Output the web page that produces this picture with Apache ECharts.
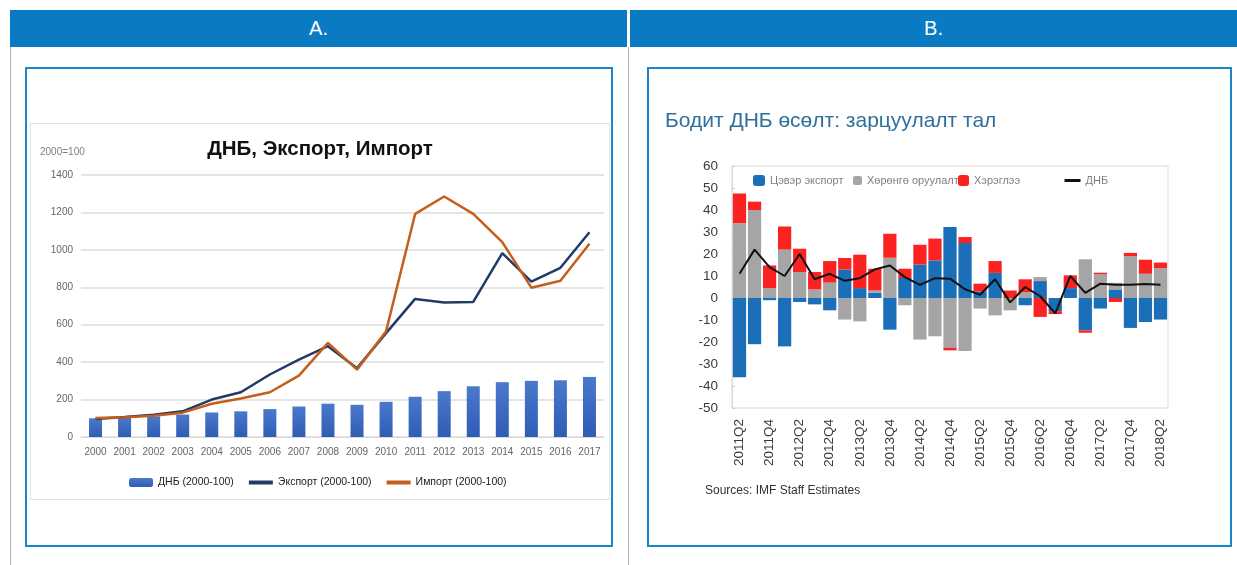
<!DOCTYPE html>
<html>
<head>
<meta charset="utf-8">
<script src="https://cdn.jsdelivr.net/npm/echarts@6/dist/echarts.min.js"></script>
<style>
body{margin:0;background:#fff;width:1237px;height:565px;position:relative;overflow:hidden;font-family:'Liberation Sans',Arial,sans-serif}
.head{position:absolute;top:10px;height:37px;background:#0a7ac2;color:#fff;font-size:20px;line-height:37px;text-align:center}
.vline{position:absolute;top:47px;width:1px;height:518px;background:#b4b4b4}
.frame{position:absolute;top:67px;height:476px;border:2px solid #1a87c9}
#left{position:absolute;left:30px;top:123px;width:578px;height:375px;border:1px solid #e2e2e2}
#right{position:absolute;left:649px;top:69px;width:581px;height:476px}
</style>
</head>
<body>
<div class="head" style="left:10px;width:617px">A.</div>
<div class="head" style="left:630px;width:607px">B.</div>
<div class="vline" style="left:10px"></div>
<div class="vline" style="left:628px"></div>
<div class="frame" style="left:25px;width:584px"></div>
<div class="frame" style="left:647px;width:581px"></div>
<div id="left"></div>
<div id="right"></div>
<script>
// A. ДНБ, Экспорт, Импорт (2000=100)
var years = ['2000','2001','2002','2003','2004','2005','2006','2007','2008','2009','2010','2011','2012','2013','2014','2015','2016','2017'];
var gdpIdx = [100,103,110,120,131,137,149,163,178,172,188,215,245,271,293,300,303,321];
var exportIdx = [96,107,119,137,200,239,334,414,485,368,555,738,719,722,983,830,904,1094];
var importIdx = [101,105,114,130,178,206,239,328,503,360,565,1192,1285,1192,1041,798,835,1033];

// B. Бодит ДНБ өсөлт: зарцуулалт тал
var quarters = ['2011Q2','2011Q3','2011Q4','2012Q1','2012Q2','2012Q3','2012Q4','2013Q1','2013Q2','2013Q3','2013Q4',
  '2014Q1','2014Q2','2014Q3','2014Q4','2015Q1','2015Q2','2015Q3','2015Q4','2016Q1','2016Q2','2016Q3','2016Q4',
  '2017Q1','2017Q2','2017Q3','2017Q4','2018Q1','2018Q2'];
var netExport = [-36,-21,-1,-22,-1.8,-2.9,-5.6,12.9,4.5,2.4,-14.4,9.1,15.2,17.1,32.3,25,3,11.4,0,-3.3,7.7,-6,4.5,-14.7,-4.8,3.9,-13.6,-10.9,-9.8];
var investment = [34,40,4.5,22,11.8,3.9,7,-9.8,-10.6,1,18.3,-3.3,-18.9,-17.4,-22.6,-24.1,-4.8,-7.9,-5.6,2.7,1.8,0,0,17.6,10.9,3,19.1,11,13.6];
var consumption = [13.5,3.8,10.3,10.5,10.6,7.9,9.8,5.3,15.2,9.9,10.9,4.2,9,9.9,-1.2,2.7,3.5,5.4,3.4,5.8,-8.6,-1.3,5.8,-1.1,0.6,-1.8,1.4,6.4,2.5];
var gdpGrowth = [11,22,14,10,20,8.5,11,7.8,9,13,14.8,9.5,6,9,8.8,4,1.5,8.5,-2,5,0.8,-7,10,2.3,6.5,6,6,6.4,6];

var narrow = "'Liberation Sans Narrow','Liberation Sans',Arial,sans-serif";

var chartA = echarts.init(document.getElementById('left'));
chartA.setOption({
  animation: false,
  title: [
    { text: 'ДНБ, Экспорт, Импорт', left: 'center', top: 10,
      textStyle: { fontSize: 20.5, fontWeight: 'bold', color: '#111', fontFamily: 'Liberation Sans, Arial' } },
    { text: '2000=100', left: 4, top: 18, textStyle: { fontSize: 10, fontWeight: 'normal', color: '#808080', fontFamily: narrow } }
  ],
  grid: { left: 50, right: 5, top: 51, bottom: 62 },
  legend: {
    left: 98, top: 353, padding: 0, itemWidth: 24, itemHeight: 9, itemGap: 13,
    textStyle: { fontSize: 10.5, color: '#222' },
    lineStyle: { width: 4 },
    data: [
      'ДНБ (2000-100)',
      { name: 'Экспорт (2000-100)', itemStyle: { opacity: 0 } },
      { name: 'Импорт (2000-100)', itemStyle: { opacity: 0 } }
    ]
  },
  xAxis: {
    type: 'category', data: years,
    axisLine: { lineStyle: { color: '#d9d9d9' } },
    axisTick: { show: false },
    axisLabel: { fontSize: 10, color: '#666', margin: 10, fontFamily: narrow }
  },
  yAxis: {
    type: 'value', min: 0, max: 1400, interval: 200,
    axisLine: { show: false }, axisTick: { show: false },
    axisLabel: { fontSize: 10, color: '#666', margin: 8, fontFamily: narrow, formatter: function (v) { return String(v); } },
    splitLine: { lineStyle: { color: '#dcdcdc', width: 1.5 } }
  },
  series: [
    { name: 'ДНБ (2000-100)', type: 'bar', data: gdpIdx, barWidth: 13,
      itemStyle: { color: new echarts.graphic.LinearGradient(0, 0, 0, 1, [{ offset: 0, color: '#4a78cc' }, { offset: 1, color: '#2f5db5' }]) } },
    { name: 'Экспорт (2000-100)', type: 'line', data: exportIdx, symbol: 'none',
      lineStyle: { color: '#223b66', width: 2.5 }, itemStyle: { color: '#223b66' } },
    { name: 'Импорт (2000-100)', type: 'line', data: importIdx, symbol: 'none',
      lineStyle: { color: '#c55d1c', width: 2.5 }, itemStyle: { color: '#c55d1c' } }
  ]
});

var legendText = { fontSize: 11, color: '#7f7f7f' };
var chartB = echarts.init(document.getElementById('right'));
chartB.setOption({
  animation: false,
  title: { text: 'Бодит ДНБ өсөлт: зарцуулалт тал', left: 16, top: 42, padding: 0,
    textStyle: { fontSize: 21, fontWeight: 'normal', color: '#2f6f9c' } },
  grid: { left: 83, top: 97, width: 436, height: 242, show: true, borderColor: '#d9d9d9', borderWidth: 1 },
  legend: [
    { data: ['Цэвэр экспорт'], left: 104, top: 106, padding: 0, itemWidth: 12, itemHeight: 11, textStyle: legendText },
    { data: ['Хөрөнгө оруулалт'], left: 204, top: 106, padding: 0, itemWidth: 9, itemHeight: 9, textStyle: legendText },
    { data: ['Хэрэглээ'], left: 309, top: 106, padding: 0, itemWidth: 11, itemHeight: 11, textStyle: legendText },
    { data: [{ name: 'ДНБ', itemStyle: { opacity: 0 } }], left: 414, top: 106, padding: 0, itemWidth: 16, itemHeight: 11,
      lineStyle: { width: 3 }, textStyle: legendText }
  ],
  xAxis: {
    type: 'category', data: quarters,
    axisLine: { show: false }, axisTick: { show: false },
    axisLabel: { rotate: 90, interval: 1, fontSize: 13.5, color: '#3a3a3a', margin: 11 }
  },
  yAxis: {
    type: 'value', min: -50, max: 60, interval: 10,
    axisLine: { show: true, lineStyle: { color: '#d9d9d9' } },
    axisTick: { show: true, inside: true, length: 3, lineStyle: { color: '#d0d0d0' } },
    axisLabel: { fontSize: 13.5, color: '#3a3a3a', margin: 14 },
    splitLine: { show: false }
  },
  series: [
    { name: 'Цэвэр экспорт', type: 'bar', stack: 'total', data: netExport, barCategoryGap: '12%',
      itemStyle: { color: '#1a6fb8' } },
    { name: 'Хөрөнгө оруулалт', type: 'bar', stack: 'total', data: investment,
      itemStyle: { color: '#a5a5a5' } },
    { name: 'Хэрэглээ', type: 'bar', stack: 'total', data: consumption,
      itemStyle: { color: '#fb2222' } },
    { name: 'ДНБ', type: 'line', data: gdpGrowth, symbol: 'none', z: 5,
      lineStyle: { color: '#111', width: 2 }, itemStyle: { color: '#111' } }
  ],
  graphic: [
    { type: 'text', left: 56, top: 416, style: { text: 'Sources: IMF Staff Estimates', fontSize: 12, fill: '#333' } }
  ]
});
</script>
</body>
</html>
